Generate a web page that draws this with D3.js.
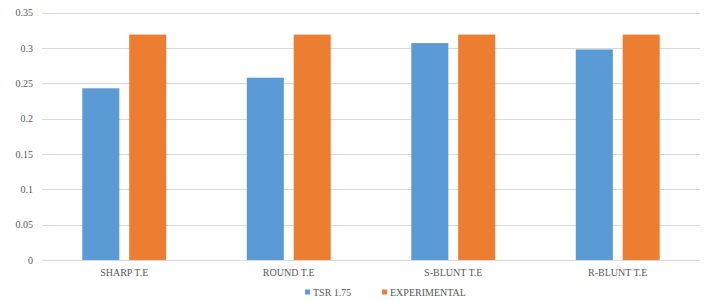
<!DOCTYPE html>
<html><head><meta charset="utf-8">
<script src="https://cdn.jsdelivr.net/npm/d3@7"></script>
<style>body{margin:0;background:#fff}svg{display:block}
svg text{font-family:"Liberation Serif","Times New Roman","DejaVu Serif",serif !important;font-size:10px;fill:#595959}</style>
</head><body>
<svg id="c" width="704" height="300"></svg>
<script>
const categories = ["SHARP T.E", "ROUND T.E", "S-BLUNT T.E", "R-BLUNT T.E"];
const seriesNames = ["TSR 1.75", "EXPERIMENTAL"];
const tsrValues = [0.243, 0.258, 0.307, 0.298];
const expValues = [0.319, 0.319, 0.319, 0.319];
const yTicks = [0, 0.05, 0.1, 0.15, 0.2, 0.25, 0.3, 0.35];
const colors = ["#5B9BD5", "#ED7D31"];

const svg = d3.select("#c");
const L = 42, R = 700, T = 12.7, B = 260;

const x0 = d3.scaleBand().domain(categories).range([L, R]).paddingInner(0.49).paddingOuter(0.245);
const x1 = d3.scaleBand().domain(seriesNames).range([0, x0.bandwidth()]).paddingInner(0.21);
const y = d3.scaleLinear().domain([0, 0.35]).range([B, T]);

// gridlines
svg.append("g").selectAll("line").data(yTicks).join("line")
  .attr("x1", L).attr("x2", R)
  .attr("y1", d => Math.round(y(d)) + 0.5).attr("y2", d => Math.round(y(d)) + 0.5)
  .attr("stroke", "#d9d9d9").attr("stroke-width", 1);

// y axis labels
const yAxis = d3.axisLeft(y).tickValues(yTicks).tickSize(0).tickPadding(9)
  .tickFormat(d => String(+d.toFixed(2)));
const ya = svg.append("g").attr("transform", `translate(${L},0)`).call(yAxis)
  .attr("font-family", null).attr("font-size", null);
ya.select(".domain").remove();

// bars
const rows = categories.map((c, i) => ({cat: c, vals: [tsrValues[i], expValues[i]]}));
const g = svg.append("g").selectAll("g").data(rows).join("g")
  .attr("transform", d => `translate(${x0(d.cat)},0)`);
g.selectAll("rect").data(d => d.vals.map((v, j) => ({s: seriesNames[j], v, j}))).join("rect")
  .attr("x", d => x1(d.s)).attr("width", x1.bandwidth())
  .attr("y", d => y(d.v)).attr("height", d => B - y(d.v))
  .attr("fill", d => colors[d.j]);

// x axis labels
const xAxis = d3.axisBottom(x0).tickSize(0).tickPadding(9);
const xa = svg.append("g").attr("transform", `translate(0,${B})`).call(xAxis)
  .attr("font-family", null).attr("font-size", null);
xa.select(".domain").remove();

// legend
const legendX = [305, 382];
const lg = svg.append("g").selectAll("g").data(seriesNames).join("g")
  .attr("transform", (d, i) => `translate(${legendX[i]},289.5)`);
lg.append("rect").attr("width", 5).attr("height", 5).attr("fill", (d, i) => colors[i]);
lg.append("text").attr("x", 8).attr("y", 6.5).text(d => d);
</script>
</body></html>
